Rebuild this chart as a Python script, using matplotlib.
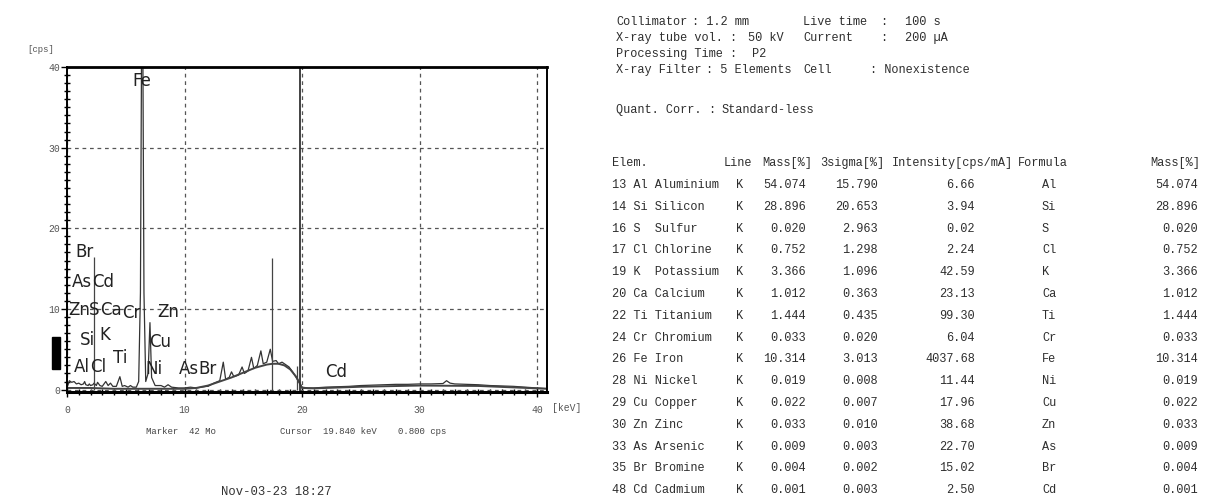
import numpy as np
import matplotlib
matplotlib.use("Agg")
import matplotlib.pyplot as plt
from matplotlib.ticker import MultipleLocator
from matplotlib.patches import Rectangle

# spectrum (keV, cps)
energy = [0.0, 0.2, 0.4, 0.6, 0.8, 1.0, 1.2, 1.4, 1.5, 1.6, 1.8, 1.9, 2.0, 2.2, 2.3,
          2.5, 2.6, 2.8, 3.0, 3.3, 3.5, 3.7, 3.9, 4.2, 4.5, 4.7, 4.9, 5.2, 5.4, 5.6,
          5.9, 6.1, 6.25, 6.4, 6.55, 6.7, 6.9, 7.06, 7.2, 7.5, 8.0, 8.3, 8.6, 8.9,
          9.5, 10.0, 10.5, 11.0, 11.9, 12.0, 12.5, 13.0, 13.3, 13.5, 13.8, 14.0,
          14.2, 14.6, 14.9, 15.1, 15.4, 15.7, 15.9, 16.2, 16.5, 16.7, 17.0, 17.3,
          17.5, 17.8, 18.0, 18.3, 18.6, 18.9, 19.2, 19.5, 19.8, 20.0, 20.5, 21.0,
          22.0, 23.0, 24.0, 25.0, 26.0, 27.0, 28.0, 29.0, 30.0, 31.0, 32.0, 32.3,
          32.6, 33.0, 34.0, 35.0, 36.0, 37.0, 38.0, 39.0, 40.0, 41.0]
counts = [0.2, 1.1, 0.9, 1.0, 0.7, 0.8, 0.6, 0.7, 1.0, 0.6, 0.5, 0.7, 0.5, 0.6, 0.8,
          0.5, 0.9, 0.5, 0.4, 1.0, 0.5, 0.8, 0.4, 0.4, 1.6, 0.4, 0.5, 0.3, 0.5, 0.3,
          0.3, 1.0, 12.0, 60.0, 12.0, 1.0, 2.0, 8.3, 1.5, 0.5, 0.5, 0.3, 0.6, 0.3,
          0.2, 0.2, 0.3, 0.2, 0.4, 0.4, 0.8, 1.1, 3.4, 1.3, 1.5, 2.2,
          1.6, 1.8, 2.8, 2.0, 2.3, 4.0, 2.6, 3.0, 4.8, 3.2, 3.4, 5.0,
          3.5, 3.6, 3.2, 3.4, 3.1, 2.8, 2.2, 1.5, 0.8, 0.3, 0.2, 0.2,
          0.3, 0.35, 0.4, 0.5, 0.55, 0.6, 0.65, 0.65, 0.7, 0.7, 0.75, 1.1,
          0.8, 0.7, 0.65, 0.6, 0.5, 0.45, 0.4, 0.3, 0.2, 0.1]

# fitted background
bg_energy = [0, 2, 4, 6, 8, 10, 11, 12, 13, 14, 15, 16, 17, 17.5, 18, 18.5, 19,
             19.5, 19.8, 20, 21, 25, 30, 35, 40, 41]
bg_counts = [0.2, 0.2, 0.1, 0.1, 0.1, 0.1, 0.2, 0.5, 1.0, 1.5, 2.1, 2.7, 3.1, 3.2,
             3.2, 3.0, 2.5, 1.6, 0.8, 0.2, 0.15, 0.35, 0.5, 0.45, 0.15, 0.1]

# Mo marker lines
marker_energy = [2.29, 17.48, 19.61]
marker_height = [16.5, 16.3, 2.9]
cursor_kev = 19.84

# peak labels
peak_names = ["Br", "As", "Cd", "Zn", "S", "Ca", "Cr", "Zn", "Si", "K", "Cu",
              "Al", "Cl", "Ti", "Ni", "As", "Br", "Fe", "Cd"]
peak_x = [1.5, 1.3, 3.1, 1.0, 2.35, 3.75, 5.45, 8.6, 1.7, 3.2, 7.9,
          1.3, 2.65, 4.5, 7.4, 10.35, 11.95, 6.4, 22.9]
peak_y = [17.0, 13.3, 13.3, 9.9, 9.9, 9.9, 9.5, 9.6, 6.2, 6.8, 5.9,
          2.8, 2.8, 3.9, 2.5, 2.5, 2.5, 38.3, 2.2]

# quantification table
elements = ["13 Al Aluminium", "14 Si Silicon", "16 S  Sulfur", "17 Cl Chlorine",
            "19 K  Potassium", "20 Ca Calcium", "22 Ti Titanium", "24 Cr Chromium",
            "26 Fe Iron", "28 Ni Nickel", "29 Cu Copper", "30 Zn Zinc",
            "33 As Arsenic", "35 Br Bromine", "48 Cd Cadmium"]
mass = ["54.074", "28.896", "0.020", "0.752", "3.366", "1.012", "1.444", "0.033",
        "10.314", "0.019", "0.022", "0.033", "0.009", "0.004", "0.001"]
sigma3 = ["15.790", "20.653", "2.963", "1.298", "1.096", "0.363", "0.435", "0.020",
          "3.013", "0.008", "0.007", "0.010", "0.003", "0.002", "0.003"]
intensity = ["6.66", "3.94", "0.02", "2.24", "42.59", "23.13", "99.30", "6.04",
             "4037.68", "11.44", "17.96", "38.68", "22.70", "15.02", "2.50"]
formula = ["Al", "Si", "S", "Cl", "K", "Ca", "Ti", "Cr", "Fe", "Ni", "Cu", "Zn",
           "As", "Br", "Cd"]

W, H = 1208, 500
fig = plt.figure(figsize=(W / 100, H / 100), dpi=100)
fig.patch.set_facecolor("white")


def fx(x):
    return x / W


def fy(y):
    return 1 - y / H


mono = "Liberation Mono"
narrow = ["Liberation Sans Narrow", "DejaVu Sans"]

ax = fig.add_axes([fx(67), fy(392), fx(547) - fx(67), fy(67) - fy(392)])
ax.set_xlim(0, 40.85)
ax.set_ylim(-0.3, 40)

ax.plot(energy, counts, color="#333333", lw=0.9, clip_on=True)
ax.plot(bg_energy, bg_counts, color="#444444", lw=1.4)
ax.vlines(marker_energy, 0, marker_height, color="#444444", lw=0.9)
ax.axvline(cursor_kev, color="#333333", lw=1.3)

ax.set_xticks([0, 10, 20, 30, 40])
ax.set_yticks([0, 10, 20, 30, 40])
ax.xaxis.set_minor_locator(MultipleLocator(1))
ax.yaxis.set_minor_locator(MultipleLocator(1))
ax.grid(which="major", ls=(0, (3, 3)), color="#555555", lw=0.9)
ax.tick_params(which="major", axis="y", direction="out", length=4, width=1,
               labelsize=7, labelcolor="#555555", pad=1)
ax.tick_params(which="major", axis="x", direction="inout", length=7, width=1,
               labelsize=7, labelcolor="#555555", pad=6)
ax.tick_params(which="minor", direction="inout", length=5, width=1)
for lab in ax.get_xticklabels() + ax.get_yticklabels():
    lab.set_family(mono)
for s in ax.spines.values():
    s.set_linewidth(1.4)
ax.spines["top"].set_linewidth(2.0)
ax.spines["bottom"].set_linewidth(2.2)

for name, x, y in zip(peak_names, peak_x, peak_y):
    ax.text(x, y, name, ha="center", va="center", fontsize=12, family=narrow,
            color="#222222")

fig.text(fx(41), fy(50), "[cps]", ha="center", va="center", fontsize=6.5,
         family=mono, color="#555555")
fig.text(fx(567), fy(408), "[keV]", ha="center", va="center", fontsize=7,
         family=mono, color="#555555")
fig.text(fx(146), fy(431), "Marker  42 Mo", ha="left", va="center", fontsize=6.5,
         family=mono, color="#444444")
fig.text(fx(280), fy(431), "Cursor  19.840 keV", ha="left", va="center",
         fontsize=6.5, family=mono, color="#444444")
fig.text(fx(398), fy(431), "0.800 cps", ha="left", va="center", fontsize=6.5,
         family=mono, color="#444444")
fig.text(fx(276), fy(492), "Nov-03-23 18:27", ha="center", va="center",
         fontsize=8.8, family=mono, color="#333333")
fig.patches.append(Rectangle((fx(52), fy(369)), fx(8), fy(337) - fy(369),
                             transform=fig.transFigure, color="black"))

# instrument header
tc = "#2e2e2e"
tsz = 8.6
head = [
    (616, 22, "Collimator"), (692, 22, ": 1.2 mm"), (803, 22, "Live time"),
    (880, 22, ":"), (905, 22, "100 s"),
    (616, 38, "X-ray tube vol. :"), (748, 38, "50 kV"), (803, 38, "Current"),
    (880, 38, ":"), (905, 38, "200 \u00b5A"),
    (616, 54, "Processing Time :"), (752, 54, "P2"),
    (616, 70, "X-ray Filter"), (706, 70, ": 5 Elements"), (803, 70, "Cell"),
    (870, 70, ": Nonexistence"),
    (616, 110, "Quant. Corr."), (708, 110, ":"), (722, 110, "Standard-less"),
]
for x, y, s in head:
    fig.text(fx(x), fy(y), s, ha="left", va="center", fontsize=tsz, family=mono,
             color=tc)

hy = 163
fig.text(fx(612), fy(hy), "Elem.", ha="left", va="center", fontsize=tsz, family=mono, color=tc)
fig.text(fx(724), fy(hy), "Line", ha="left", va="center", fontsize=tsz, family=mono, color=tc)
fig.text(fx(812), fy(hy), "Mass[%]", ha="right", va="center", fontsize=tsz, family=mono, color=tc)
fig.text(fx(884), fy(hy), "3sigma[%]", ha="right", va="center", fontsize=tsz, family=mono, color=tc)
fig.text(fx(892), fy(hy), "Intensity[cps/mA]", ha="left", va="center", fontsize=tsz, family=mono, color=tc)
fig.text(fx(1018), fy(hy), "Formula", ha="left", va="center", fontsize=tsz, family=mono, color=tc)
fig.text(fx(1200), fy(hy), "Mass[%]", ha="right", va="center", fontsize=tsz, family=mono, color=tc)

row0, step = 185, 21.8
for i in range(len(elements)):
    y = fy(row0 + i * step)
    fig.text(fx(612), y, elements[i], ha="left", va="center", fontsize=tsz, family=mono, color=tc)
    fig.text(fx(740), y, "K", ha="center", va="center", fontsize=tsz, family=mono, color=tc)
    fig.text(fx(806), y, mass[i], ha="right", va="center", fontsize=tsz, family=mono, color=tc)
    fig.text(fx(878), y, sigma3[i], ha="right", va="center", fontsize=tsz, family=mono, color=tc)
    fig.text(fx(975), y, intensity[i], ha="right", va="center", fontsize=tsz, family=mono, color=tc)
    fig.text(fx(1042), y, formula[i], ha="left", va="center", fontsize=tsz, family=mono, color=tc)
    fig.text(fx(1198), y, mass[i], ha="right", va="center", fontsize=tsz, family=mono, color=tc)

fig.savefig("out.png", dpi=100)
